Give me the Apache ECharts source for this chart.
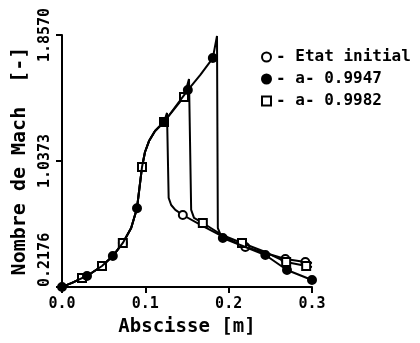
<!DOCTYPE html>
<html>
<head>
<meta charset="utf-8">
<script src="https://cdn.jsdelivr.net/npm/echarts@6/dist/echarts.min.js"></script>
<style>
  html, body { margin: 0; padding: 0; background: #fff; }
  #chart { width: 420px; height: 343px; }
</style>
</head>
<body>
<div id="chart"></div>
<script>
// common part of the curve, before the shocks
const preX = [0, 0.012, 0.024, 0.030, 0.048, 0.061, 0.073, 0.083, 0.090, 0.096, 0.0996, 0.1044, 0.1116, 0.1176, 0.1224];
const preY = [0.218, 0.244, 0.276, 0.289, 0.354, 0.419, 0.504, 0.601, 0.730, 0.998, 1.096, 1.167, 1.232, 1.265, 1.291];
const preOpenMarks = [0, 0, 1, 0, 1, 0, 1, 0, 0, 1, 0, 0, 0, 0, 0];
const preFilledMarks = [1, 0, 0, 1, 0, 1, 0, 0, 1, 0, 0, 0, 0, 0, 1];
const preSquareMarks = [0, 0, 1, 0, 1, 0, 1, 0, 0, 1, 0, 0, 0, 0, 1];

// Etat initial
const initX = [0.126, 0.128, 0.131, 0.136, 0.145, 0.169, 0.192, 0.220, 0.244, 0.268, 0.292, 0.300];
const initY = [1.350, 0.797, 0.751, 0.719, 0.686, 0.614, 0.549, 0.478, 0.439, 0.400, 0.380, 0.374];
const initMarks = [0, 0, 0, 0, 1, 0, 0, 1, 0, 1, 1, 0];

// a= 0.9947
const a1X = [0.151, 0.166, 0.181, 0.186, 0.187, 0.190, 0.193, 0.220, 0.244, 0.270, 0.300];
const a1Y = [1.499, 1.597, 1.707, 1.851, 0.601, 0.562, 0.536, 0.478, 0.426, 0.328, 0.263];
const a1Marks = [1, 0, 1, 0, 0, 0, 1, 0, 1, 1, 1];

// a= 0.9982
const a2X = [0.1356, 0.1464, 0.1524, 0.155, 0.1584, 0.169, 0.192, 0.216, 0.244, 0.269, 0.293, 0.300];
const a2Y = [1.382, 1.454, 1.571, 0.719, 0.667, 0.634, 0.556, 0.504, 0.445, 0.380, 0.354, 0.348];
const a2Marks = [0, 1, 0, 0, 0, 1, 0, 1, 0, 1, 1, 0];

const yTicks = [0.2176, 1.0373, 1.8570];

const names = ['Etat initial', 'a- 0.9947', 'a- 0.9982'];
const font = 'DejaVu Sans Mono';

function build(xs, ys, marks) {
  return xs.map((x, i) => marks[i]
    ? { value: [x, ys[i]] }
    : { value: [x, ys[i]], symbol: 'none' });
}

function lineSeries(name, data, symbol, fill, z) {
  return {
    name: name,
    type: 'line',
    data: data,
    symbol: symbol,
    symbolSize: 8,
    showAllSymbol: true,
    z: z,
    lineStyle: { color: '#000', width: 2 },
    itemStyle: { color: fill, borderColor: '#000', borderWidth: 2 },
    emphasis: { disabled: true },
    animation: false,
  };
}

const chart = echarts.init(document.getElementById('chart'), null, { renderer: 'canvas' });

chart.setOption({
  backgroundColor: '#fff',
  textStyle: { fontFamily: font, color: '#000', fontWeight: 'bold' },
  grid: { left: 62, right: 108, top: 35, bottom: 56 },
  legend: {
    orient: 'vertical',
    left: 256,
    top: 44,
    itemWidth: 9,
    itemHeight: 9,
    itemGap: 6,
    formatter: (n) => '- ' + n,
    textStyle: { fontFamily: font, fontSize: 16, color: '#000', fontWeight: 'bold' },
    data: [
      { name: names[0], icon: 'circle', itemStyle: { color: '#fff', borderColor: '#000', borderWidth: 2 } },
      { name: names[1], icon: 'circle', itemStyle: { color: '#000', borderColor: '#000', borderWidth: 2 } },
      { name: names[2], icon: 'rect', itemStyle: { color: '#fff', borderColor: '#000', borderWidth: 2 } },
    ],
  },
  xAxis: {
    type: 'value',
    min: 0,
    max: 0.3,
    interval: 0.1,
    name: 'Abscisse [m]',
    nameLocation: 'middle',
    nameGap: 31,
    nameTextStyle: { fontFamily: font, fontSize: 19, color: '#000', fontWeight: 'bold' },
    axisLine: { lineStyle: { color: '#000', width: 2 } },
    axisTick: { length: 6, lineStyle: { color: '#000', width: 2 } },
    axisLabel: { fontFamily: font, fontSize: 15, color: '#000', fontWeight: 'bold', margin: 10, formatter: (v) => v.toFixed(1) },
    splitLine: { show: false },
  },
  yAxis: {
    type: 'value',
    min: yTicks[0],
    max: yTicks[2],
    name: 'Nombre de Mach  [-]',
    nameLocation: 'middle',
    nameRotate: 90,
    nameGap: 29,
    nameTextStyle: { fontFamily: font, fontSize: 20, color: '#000', fontWeight: 'bold' },
    axisLine: { show: true, lineStyle: { color: '#000', width: 2 } },
    axisTick: { show: true, length: 6, customValues: yTicks, lineStyle: { color: '#000', width: 2 } },
    axisLabel: {
      fontFamily: font, fontSize: 15, color: '#000', fontWeight: 'bold', rotate: 90, margin: 9,
      customValues: yTicks, alignMinLabel: 'left',
      formatter: (v) => v.toFixed(4),
    },
    splitLine: { show: false },
  },
  series: [
    lineSeries(names[0], build(preX.concat(initX), preY.concat(initY), preOpenMarks.concat(initMarks)), 'circle', '#fff', 2),
    lineSeries(names[2], build(preX.concat(a2X), preY.concat(a2Y), preSquareMarks.concat(a2Marks)), 'rect', '#fff', 3),
    lineSeries(names[1], build(preX.concat(a1X), preY.concat(a1Y), preFilledMarks.concat(a1Marks)), 'circle', '#000', 4),
  ],
});
</script>
</body>
</html>
